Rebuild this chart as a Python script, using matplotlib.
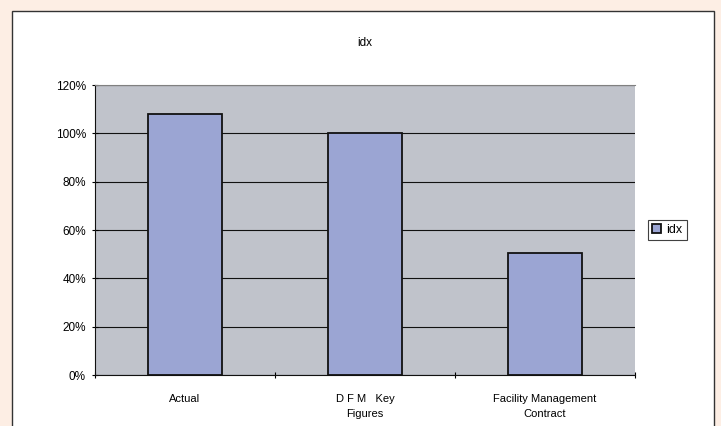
import matplotlib
matplotlib.use("Agg")
import matplotlib.pyplot as plt
from matplotlib.patches import Rectangle
from matplotlib.ticker import FuncFormatter

categories = ["Actual", "D F M   Key\nFigures", "Facility Management\nContract"]
values = [1.08, 1.00, 0.505]
yticks = [0, 0.2, 0.4, 0.6, 0.8, 1.0, 1.2]

plt.rcParams['font.family'] = ['Liberation Sans', 'DejaVu Sans']

W, H = 721, 426
fig = plt.figure(figsize=(W / 100, H / 100), dpi=100)
fig.patch.set_facecolor('#FDEEE4')

# white panel
panel = Rectangle((12 / W, -0.05), (714 - 12) / W, 1.05 - 11 / H,
                  transform=fig.transFigure, facecolor='white',
                  edgecolor='#333333', linewidth=1.0, zorder=-1)
fig.patches.append(panel)

ax = fig.add_axes([95 / W, 1 - 375 / H, (635 - 95) / W, (375 - 85) / H])
ax.set_facecolor('#C0C3CB')
x = range(len(categories))
ax.bar(x, values, width=0.41, color='#9BA5D3', edgecolor='#111111',
       linewidth=1.3, zorder=3, label='idx')
ax.set_xlim(-0.5, 2.5)
ax.set_ylim(0, 1.2)
ax.set_yticks(yticks)
ax.yaxis.set_major_formatter(FuncFormatter(lambda v, p: f"{v * 100:.0f}%"))
ax.grid(axis='y', color='#111111', linewidth=0.8, zorder=1)
ax.set_xticks([-0.5, 0.5, 1.5, 2.5])
ax.set_xticklabels([])
ax.set_xticks(list(x), minor=True)
ax.set_xticklabels(categories, minor=True, fontsize=8, linespacing=1.6)
ax.tick_params(axis='x', which='minor', length=0, pad=14)
ax.tick_params(axis='x', which='major', length=5, width=0.8, direction='inout')
ax.tick_params(axis='y', length=5, width=0.8, direction='inout', labelsize=8.5, pad=4)
ax.spines['top'].set_color('#808080')
ax.spines['top'].set_linewidth(0.8)
ax.spines['right'].set_visible(False)
ax.spines['left'].set_color('#111111')
ax.spines['bottom'].set_color('#111111')

fig.text((95 + 635) / 2 / W, 1 - 43 / H, "idx", ha='center', va='center', fontsize=8.5)

leg = ax.legend(loc='center left', bbox_to_anchor=(648 / W, 1 - 230 / H),
                bbox_transform=fig.transFigure, fontsize=9, frameon=True,
                fancybox=False, handlelength=0.7, handleheight=0.7,
                handletextpad=0.4, borderpad=0.35, borderaxespad=0)
leg.get_frame().set_edgecolor('#111111')
leg.get_frame().set_linewidth(0.8)

fig.savefig("out.png", dpi=100, facecolor=fig.get_facecolor())
